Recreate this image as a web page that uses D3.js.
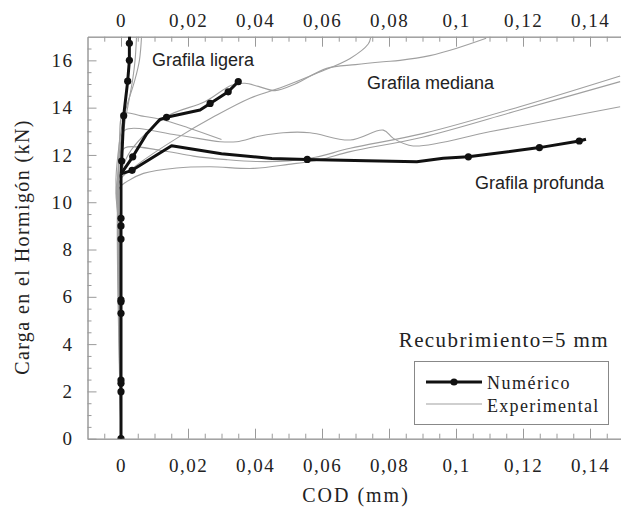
<!DOCTYPE html>
<html>
<head>
<meta charset="utf-8">
<script src="https://cdn.jsdelivr.net/npm/d3@7"></script>
<style>
  body { margin: 0; background: #fff; }
  .serif { font-family: "Liberation Serif", "Times New Roman", serif; fill: #222; }
  .sans { font-family: "Liberation Sans", Arial, sans-serif; fill: #222; }
</style>
</head>
<body>
<div id="chart"></div>
<script>
// tick values
const xMajor = [0, 0.02, 0.04, 0.06, 0.08, 0.1, 0.12, 0.14];
const xMinor = [-0.005, 0.005, 0.01, 0.015, 0.025, 0.03, 0.035, 0.045, 0.05, 0.055, 0.065, 0.07, 0.075,
  0.085, 0.09, 0.095, 0.105, 0.11, 0.115, 0.125, 0.13, 0.135, 0.145];
const yMajor = [0, 2, 4, 6, 8, 10, 12, 14, 16];
const yMinor = [0.5, 1, 1.5, 2.5, 3, 3.5, 4.5, 5, 5.5, 6.5, 7, 7.5, 8.5, 9, 9.5, 10.5, 11, 11.5,
  12.5, 13, 13.5, 14.5, 15, 15.5, 16.5];

// numerico (COD mm, carga kN)
const numTronco = [[0, 0], [0, 1.99], [0, 2.34], [0, 2.48], [0, 5.3], [0, 5.79], [0, 5.87],
  [0, 8.44], [0, 9.0], [0, 9.32], [0, 11.2]];
const numLigera = [[0, 11.2], [0.0002, 11.74], [0.0008, 13.66], [0.002, 15.12], [0.0025, 16.0],
  [0.0025, 16.72], [0.0026, 17.2]];
const numMediana = [[0, 11.2], [0.0035, 11.92], [0.0077, 12.9], [0.0116, 13.5], [0.0136, 13.59],
  [0.0236, 13.9], [0.0266, 14.18], [0.032, 14.67], [0.035, 15.1]];
const numProfunda = [[0, 11.2], [0.0033, 11.35], [0.0151, 12.39], [0.03, 12.05], [0.045, 11.85],
  [0.0556, 11.81], [0.0733, 11.75], [0.0883, 11.71], [0.0962, 11.86], [0.1037, 11.92],
  [0.1249, 12.31], [0.1368, 12.59], [0.1388, 12.66]];
const numDots = [[0, 0], [0, 1.99], [0, 2.34], [0, 2.48], [0, 5.3], [0, 5.79], [0, 5.87],
  [0, 8.44], [0, 9.0], [0, 9.32], [0.0002, 11.74], [0.0008, 13.66], [0.002, 15.12], [0.0025, 16.0],
  [0.0025, 16.72], [0.0035, 11.92], [0.0136, 13.59], [0.0266, 14.18], [0.032, 14.67], [0.035, 15.1],
  [0.0033, 11.35], [0.0556, 11.81], [0.1037, 11.92], [0.1249, 12.31], [0.1368, 12.59]];

// experimental
const expLigera1 = [[0, 0], [0, 6], [-0.001, 9.5], [-0.0015, 10.4], [-0.0008, 11.3], [0, 12.3],
  [0.0012, 13.4], [0.0025, 14.4], [0.0035, 15.2], [0.0042, 16.0], [0.0047, 17.2]];
const expLigera2 = [[0, 0], [-0.0005, 8], [-0.0012, 10], [-0.0015, 11], [-0.0005, 12.5],
  [0.0005, 13.4], [0.002, 14.2], [0.004, 15.1], [0.0055, 16.0], [0.0062, 17.2]];
const expMediana1 = [[0, 0], [-0.0005, 9], [-0.001, 10.5], [0, 11.0], [0.005, 11.6], [0.0166, 12.7],
  [0.0275, 13.6], [0.0385, 14.4], [0.0484, 14.88], [0.0584, 15.45], [0.0684, 16.08],
  [0.0738, 16.69], [0.0745, 16.95]];
const expMediana2 = [[0, 0], [-0.0005, 9], [-0.0012, 10.6], [0, 11.3], [0.003, 12.2], [0.0136, 13.62],
  [0.025, 14.25], [0.033, 14.95], [0.037, 15.03], [0.041, 14.9], [0.046, 14.72], [0.052, 15.0],
  [0.0614, 15.66], [0.07, 15.82], [0.0783, 15.94], [0.0833, 16.0], [0.0922, 16.2], [0.1, 16.5],
  [0.109, 16.93]];
const expProfunda1 = [[0, 0], [-0.0008, 10], [-0.0005, 12.5], [0.0008, 13.75], [0.006, 13.65],
  [0.012, 13.5], [0.02, 13.15], [0.03, 12.65]];
const expProfunda2 = [[0, 0], [-0.0008, 10], [-0.0003, 12.3], [0.0012, 13.05], [0.0166, 12.84],
  [0.0296, 12.56], [0.0345, 12.56], [0.0415, 12.8], [0.0484, 12.94], [0.0564, 12.94],
  [0.0684, 12.63], [0.0783, 13.05], [0.0813, 12.7], [0.0872, 12.38], [0.11, 12.98],
  [0.13, 13.52], [0.149, 14.04]];
const expProfunda3 = [[0, 0], [-0.001, 10], [-0.0005, 11.8], [0.0012, 12.3], [0.0116, 12.2],
  [0.0216, 11.95], [0.0316, 11.8], [0.0405, 11.72], [0.05, 11.75], [0.058, 11.9], [0.0684, 12.28],
  [0.09, 12.9], [0.119, 14.04], [0.149, 15.34]];
const expProfunda4 = [[0, 0], [-0.001, 10], [-0.0005, 10.6], [0.0017, 10.87], [0.0067, 11.22],
  [0.0166, 11.45], [0.0266, 11.5], [0.0395, 11.43], [0.05, 11.6], [0.0594, 11.8], [0.0684, 12.14],
  [0.09, 12.75], [0.119, 13.9], [0.149, 15.1]];

const experimental = [expLigera1, expLigera2, expMediana1, expMediana2,
  expProfunda1, expProfunda2, expProfunda3, expProfunda4];
const numerico = [numTronco, numLigera, numMediana, numProfunda];

const width = 621, height = 515;
const svg = d3.select("#chart").append("svg")
  .attr("width", width)
  .attr("height", height);

const x = d3.scaleLinear().domain([-0.01, 0.15]).range([87.5, 623.5]);
const y = d3.scaleLinear().domain([0, 17]).range([438.7, 36.7]);

const fmt = d => d === 0 ? "0" : String(d).replace(".", ",");

//clip for plot area
svg.append("clipPath").attr("id", "plot")
  .append("rect")
  .attr("x", x(-0.01)).attr("y", y(17))
  .attr("width", x(0.15) - x(-0.01)).attr("height", y(0) - y(17));

//axes
function styleAxis(g) {
  g.select(".domain").attr("stroke", "#9a9a9a");
  g.selectAll(".tick line").attr("stroke", "#9a9a9a");
  g.selectAll("text")
    .attr("class", "serif")
    .style("font-size", "19px")
    .style("letter-spacing", "1.5px")
    .attr("fill", "#222");
}

svg.append("g")
  .attr("transform", `translate(0,${y(0)})`)
  .call(d3.axisBottom(x).tickValues(xMinor).tickSize(-5).tickSizeOuter(0).tickFormat(""))
  .call(styleAxis);
svg.append("g")
  .attr("transform", `translate(0,${y(0)})`)
  .call(d3.axisBottom(x).tickValues(xMajor).tickSize(-10).tickSizeOuter(0).tickPadding(20).tickFormat(fmt))
  .call(styleAxis);
svg.append("g")
  .attr("transform", `translate(0,${y(17)})`)
  .call(d3.axisTop(x).tickValues(xMinor).tickSize(-5).tickSizeOuter(0).tickFormat(""))
  .call(styleAxis);
svg.append("g")
  .attr("transform", `translate(0,${y(17)})`)
  .call(d3.axisTop(x).tickValues(xMajor).tickSize(-10).tickSizeOuter(0).tickPadding(10).tickFormat(fmt))
  .call(styleAxis);
svg.append("g")
  .attr("transform", `translate(${x(-0.01)},0)`)
  .call(d3.axisLeft(y).tickValues(yMinor).tickSize(-4).tickSizeOuter(0).tickFormat(""))
  .call(styleAxis);
svg.append("g")
  .attr("transform", `translate(${x(-0.01)},0)`)
  .call(d3.axisLeft(y).tickValues(yMajor).tickSize(-9).tickSizeOuter(0).tickPadding(14).tickFormat(d3.format("d")))
  .call(styleAxis);

//curves
const line = d3.line()
  .x(d => x(d[0]))
  .y(d => y(d[1]));
const smooth = d3.line()
  .x(d => x(d[0]))
  .y(d => y(d[1]))
  .curve(d3.curveCatmullRom.alpha(0.5));

const plot = svg.append("g").attr("clip-path", "url(#plot)");

plot.selectAll("path.exp")
  .data(experimental)
  .enter()
  .append("path")
  .attr("class", "exp")
  .attr("d", smooth)
  .attr("fill", "none")
  .attr("stroke", "#a0a0a0")
  .attr("stroke-width", 1.1);

plot.selectAll("path.num")
  .data(numerico)
  .enter()
  .append("path")
  .attr("class", "num")
  .attr("d", line)
  .attr("fill", "none")
  .attr("stroke", "#111")
  .attr("stroke-width", 3)
  .attr("stroke-linejoin", "round");

plot.selectAll("circle")
  .data(numDots)
  .enter()
  .append("circle")
  .attr("cx", d => x(d[0]))
  .attr("cy", d => y(d[1]))
  .attr("r", 3.6)
  .attr("fill", "#111");

//labels
svg.append("text")
  .attr("class", "serif")
  .attr("transform", "translate(29,247) rotate(-90)")
  .attr("text-anchor", "middle")
  .style("font-size", "20px")
  .style("letter-spacing", "1.4px")
  .text("Carga en el Hormigón (kN)");

svg.append("text")
  .attr("class", "serif")
  .attr("x", 356).attr("y", 502)
  .attr("text-anchor", "middle")
  .style("font-size", "20px")
  .style("letter-spacing", "2px")
  .text("COD (mm)");

svg.append("text")
  .attr("class", "serif")
  .attr("x", 609).attr("y", 347)
  .attr("text-anchor", "end")
  .style("font-size", "21px")
  .style("letter-spacing", "1.4px")
  .text("Recubrimiento=5 mm");

const notes = [
  { t: "Grafila ligera", x: 152, y: 66 },
  { t: "Grafila mediana", x: 367, y: 89 },
  { t: "Grafila profunda", x: 475, y: 189 }
];
svg.selectAll("text.note")
  .data(notes)
  .enter()
  .append("text")
  .attr("class", "sans note")
  .attr("x", d => d.x)
  .attr("y", d => d.y)
  .style("font-size", "18px")
  .text(d => d.t);

//legend
const legend = svg.append("g");
legend.append("rect")
  .attr("x", 414.5).attr("y", 361.5)
  .attr("width", 194).attr("height", 63)
  .attr("fill", "#fff")
  .attr("stroke", "#888");
legend.append("line")
  .attr("x1", 426).attr("x2", 482).attr("y1", 382).attr("y2", 382)
  .attr("stroke", "#111").attr("stroke-width", 3);
legend.append("circle")
  .attr("cx", 454).attr("cy", 382).attr("r", 3.6).attr("fill", "#111");
legend.append("line")
  .attr("x1", 426).attr("x2", 482).attr("y1", 404).attr("y2", 404)
  .attr("stroke", "#a0a0a0").attr("stroke-width", 1.1);
legend.append("text")
  .attr("class", "serif")
  .attr("x", 487).attr("y", 389)
  .style("font-size", "18px")
  .style("letter-spacing", "1.5px")
  .text("Numérico");
legend.append("text")
  .attr("class", "serif")
  .attr("x", 487).attr("y", 412)
  .style("font-size", "18px")
  .style("letter-spacing", "1.3px")
  .text("Experimental");
</script>
</body>
</html>
